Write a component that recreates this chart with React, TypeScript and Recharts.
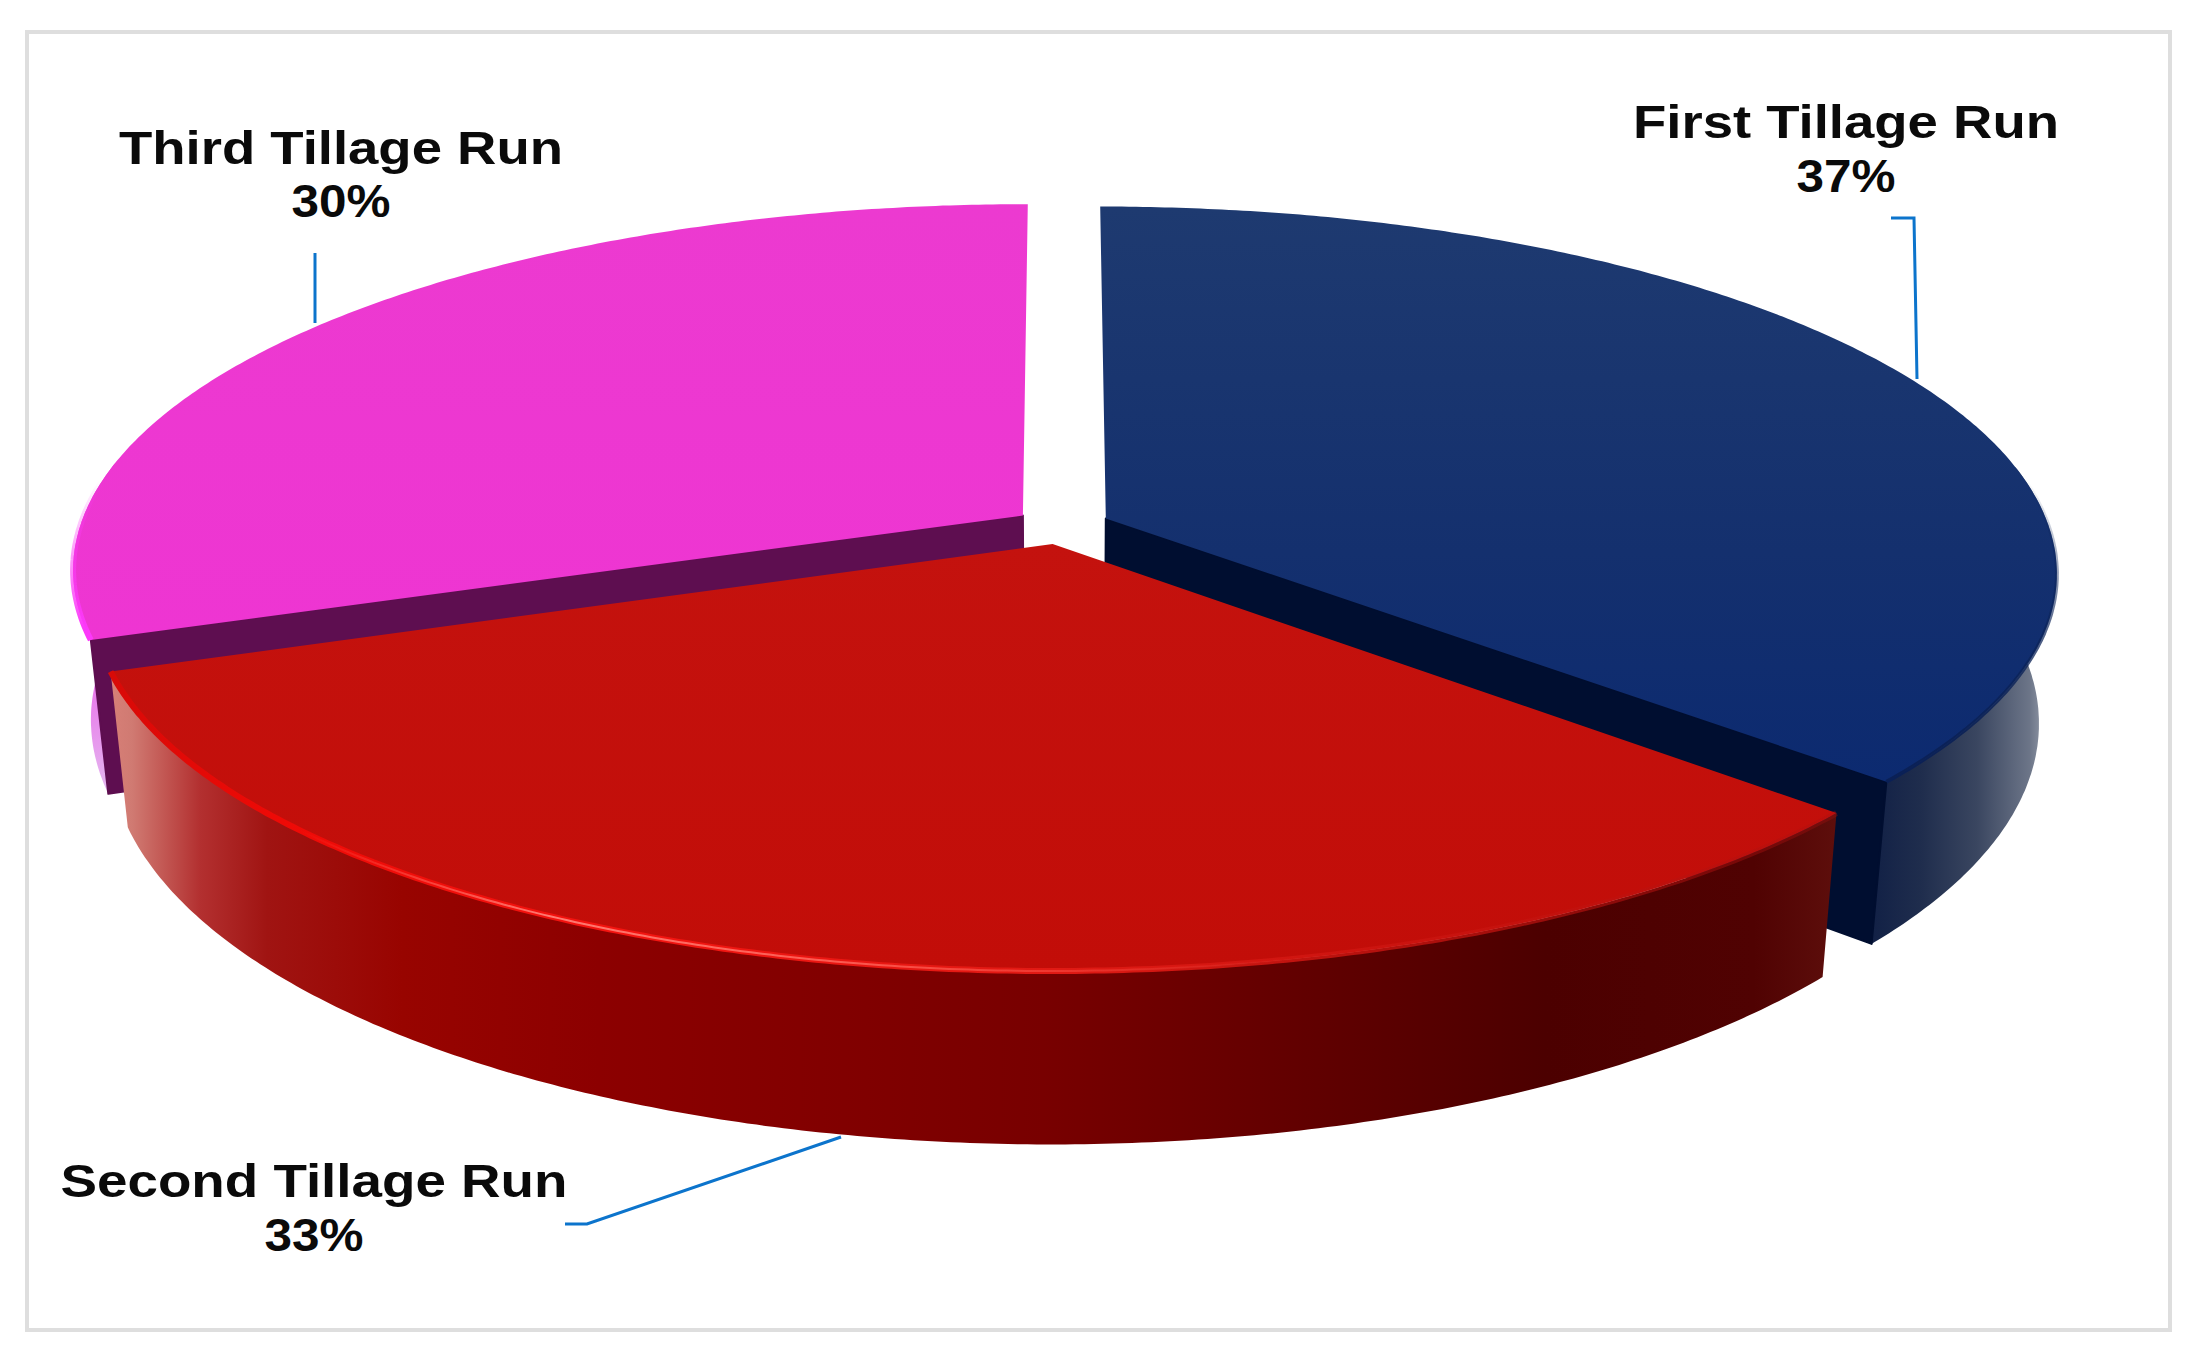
import React from "react"
import { Pie, PieChart } from "recharts"

// order starts with Third so the front slice (Second) paints last, on top of the others
const runs = ["Third Tillage Run", "First Tillage Run", "Second Tillage Run"]
const shares = [30.4, 36.6, 33.0]

const data = runs.map((name, i) => ({ name, value: shares[i] }))
const total = shares.reduce((a, b) => a + b, 0)
const startAngle = 90 + (shares[0] / total) * 360

const WIDTH = 2204
const HEIGHT = 1361
const CX = 1062
const CY = 526
const RADIUS = 943
const TILT = 0.381
const PERSPECTIVE = 0.145
const EXPLODE = 0.051
const DEPTH = 147
const BOTTOM_SHRINK = 0.982

const sliceStyles: any = {
  "First Tillage Run": {
    top: [["0", "#1e3a70"], ["0.6", "#14306e"], ["1", "#0c2a70"]],
    wall: [["0", "#101f45"], ["0.3", "#1f2d4d"], ["0.6", "#3a4660"], ["0.88", "#6c7588"], ["1", "#a4aab6"]],
    wallBox: { x1: 1865, y1: 0, x2: 2052, y2: 0 },
    edge: "#000e30",
    rim: [["0", "#0b2358", 0], ["0.5", "#0b2358", 0.7], ["1", "#0a2056", 1]],
    rimBox: { x1: 0, y1: 480, x2: 0, y2: 780 },
    rimWidth: 4,
  },
  "Second Tillage Run": {
    top: [["0", "#c4120e"], ["1", "#c20d08"]],
    wall: [["0", "#d88078"], ["0.014", "#d07a72"], ["0.053", "#b33030"], ["0.092", "#a01412"], ["0.17", "#980400"], ["0.284", "#8c0000"], ["0.54", "#780000"], ["0.83", "#4c0000"], ["0.95", "#500202"], ["1", "#5e0f0c"]],
    wallBox: { x1: 108, y1: 0, x2: 1840, y2: 0 },
    edge: "#5e0f0c",
    rim: [["0", "#d80a08", 1], ["0.1", "#ee0a06", 1], ["0.3", "#f41410", 1], ["0.55", "#e01a14", 1], ["0.8", "#c81410", 0.7], ["1", "#a81010", 0.3]],
    rimBox: { x1: 108, y1: 0, x2: 1840, y2: 0 },
    rimWidth: 6,
    shine: true,
  },
  "Third Tillage Run": {
    top: [["0", "#ec3ad0"], ["1", "#ee35d2"]],
    wall: [["0", "#f23ce6"], ["0.25", "#ea62e8"], ["1", "#e4bcf0"]],
    wallBox: { x1: 0, y1: 600, x2: 0, y2: 800 },
    edge: "#5e0e50",
    rim: [["0", "#fb3cf6", 0], ["0.6", "#fb3cf6", 0.6], ["1", "#fc38fa", 1]],
    rimBox: { x1: 0, y1: 480, x2: 0, y2: 630 },
    rimWidth: 6,
  },
}

const labelLayout: any = {
  "First Tillage Run": {
    x: 1846, nameY: 138, pctY: 192, nameW: 426,
    leader: [[1891, 218], [1914, 218], [1917, 379]],
  },
  "Second Tillage Run": {
    x: 314, nameY: 1197, pctY: 1251, nameW: 507,
    leader: [[565, 1224], [587, 1224], [841, 1137]],
  },
  "Third Tillage Run": {
    x: 341, nameY: 164, pctY: 217, nameW: 444,
    leader: [[315, 253], [315, 323]],
  },
}

const rad = (d: number) => (d * Math.PI) / 180

// pie plane to screen, nearer points get bigger
function project(u: number, v: number, cx: number, cy: number, r: number) {
  const w = 1 / (1 - PERSPECTIVE * v)
  return { x: cx + r * u * w, y: cy + r * TILT * v * w, w }
}

function drop(p: any, cx: number) {
  return { x: cx + (p.x - cx) * BOTTOM_SHRINK, y: p.y + DEPTH * p.w }
}

const toPath = (pts: any[]) =>
  pts.map((p, i) => `${i ? "L" : "M"}${p.x.toFixed(1)} ${p.y.toFixed(1)}`).join(" ")

function Slice3D(props: any) {
  const { cx, cy, outerRadius, startAngle: sa, endAngle: ea, name, payload } = props
  const key = name ?? payload?.name
  const style = sliceStyles[key]
  const a = 90 - sa
  const b = 90 - ea
  const mid = rad((a + b) / 2)
  const ou = Math.sin(mid) * EXPLODE
  const ov = -Math.cos(mid) * EXPLODE
  const at = (deg: number) =>
    project(ou + Math.sin(rad(deg)), ov - Math.cos(rad(deg)), cx, cy, outerRadius)

  const angles: number[] = []
  for (let t = a; t < b; t += 0.5) angles.push(t)
  angles.push(b)
  const arc = angles.map(at)
  const apex = project(ou, ov, cx, cy, outerRadius)

  // only the part of the outer wall that faces the viewer
  const wallTop = angles.filter((t) => Math.cos(rad(t)) < 0.15).map(at)
  const wallBottom = wallTop.map((p) => drop(p, cx)).reverse()

  const showStart = Math.sin(rad(a)) < -0.01 && Math.cos(rad(a)) < 0
  const showEnd = Math.sin(rad(b)) > 0.01 && Math.cos(rad(b)) < 0
  const edgePath = (p: any) => toPath([apex, p, drop(p, cx), drop(apex, cx)]) + " Z"
  const id = key.split(" ")[0].toLowerCase()

  return (
    <g>
      <defs>
        <linearGradient id={`top-${id}`} x1="0" y1="0" x2="0" y2="1">
          {style.top.map(([o, c]: string[]) => <stop key={o} offset={o} stopColor={c} />)}
        </linearGradient>
        <linearGradient id={`wall-${id}`} gradientUnits="userSpaceOnUse" {...style.wallBox}>
          {style.wall.map(([o, c]: string[]) => <stop key={o} offset={o} stopColor={c} />)}
        </linearGradient>
        <linearGradient id={`rim-${id}`} gradientUnits="userSpaceOnUse" {...style.rimBox}>
          {style.rim.map(([o, c, op]: any[]) => <stop key={o} offset={o} stopColor={c} stopOpacity={op} />)}
        </linearGradient>
        <linearGradient id={`shine-${id}`} gradientUnits="userSpaceOnUse" x1="300" y1="0" x2="1300" y2="0">
          <stop offset="0" stopColor="#ff6a60" stopOpacity={0} />
          <stop offset="0.25" stopColor="#ff8078" stopOpacity={0.95} />
          <stop offset="0.55" stopColor="#ff6a60" stopOpacity={0.8} />
          <stop offset="1" stopColor="#ff5048" stopOpacity={0} />
        </linearGradient>
      </defs>
      <path d={toPath([...wallTop, ...wallBottom]) + " Z"} fill={`url(#wall-${id})`} />
      {showStart && <path d={edgePath(arc[0])} fill={style.edge} stroke={style.edge} strokeWidth={2} strokeLinejoin="round" />}
      {showEnd && <path d={edgePath(arc[arc.length - 1])} fill={style.edge} stroke={style.edge} strokeWidth={2} strokeLinejoin="round" />}
      <path d={toPath([apex, ...arc]) + " Z"} fill={`url(#top-${id})`} />
      <path d={toPath(wallTop)} fill="none" stroke={`url(#rim-${id})`} strokeWidth={style.rimWidth} />
      {style.shine && <path d={toPath(wallTop)} fill="none" stroke={`url(#shine-${id})`} strokeWidth={2} />}
    </g>
  )
}

function SliceLabel(props: any) {
  const { name, percent, payload } = props
  const key = name ?? payload?.name
  const l = labelLayout[key]
  const textStyle = { fontFamily: "'Liberation Sans', Arial, sans-serif", fontWeight: 700, fontSize: 46 }
  return (
    <g>
      <polyline
        points={l.leader.map((p: number[]) => p.join(",")).join(" ")}
        fill="none"
        stroke="#0c74cc"
        strokeWidth={3}
      />
      <text x={l.x} y={l.nameY} textAnchor="middle" fill="#0a0a0a" textLength={l.nameW} lengthAdjust="spacingAndGlyphs" style={textStyle}>
        {key}
      </text>
      <text x={l.x} y={l.pctY} textAnchor="middle" fill="#0a0a0a" textLength={99} lengthAdjust="spacingAndGlyphs" style={textStyle}>
        {Math.round(percent * 100)}%
      </text>
    </g>
  )
}

export default function App() {
  return (
    <div style={{ position: "absolute", left: 0, top: 0, width: WIDTH, height: HEIGHT, background: "#fff" }}>
      <div
        style={{
          position: "absolute",
          left: 25,
          top: 30,
          width: 2139,
          height: 1294,
          border: "4px solid #dedede",
          boxSizing: "content-box",
        }}
      />
      <PieChart width={WIDTH} height={HEIGHT} margin={{ top: 0, right: 0, bottom: 0, left: 0 }} style={{ position: "absolute", left: 0, top: 0 }}>
        <Pie
          data={data}
          dataKey="value"
          nameKey="name"
          cx={CX}
          cy={CY}
          innerRadius={0}
          outerRadius={RADIUS}
          startAngle={startAngle}
          endAngle={startAngle - 360}
          stroke="none"
          isAnimationActive={false}
          shape={Slice3D}
          label={SliceLabel}
          labelLine={false}
        />
      </PieChart>
    </div>
  )
}
